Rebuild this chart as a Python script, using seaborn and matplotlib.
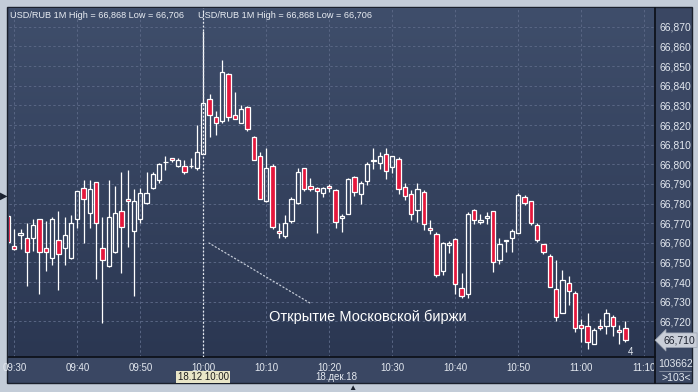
import matplotlib
matplotlib.use("Agg")
import numpy as np
import pandas as pd
import matplotlib.pyplot as plt
import matplotlib.transforms as mtrans
from matplotlib.colors import LinearSegmentedColormap
from matplotlib.patches import Rectangle
from matplotlib.lines import Line2D
import seaborn as sns

# ---------------- data ----------------
times = ["09:29", "09:30", "09:31", "09:32", "09:33", "09:34", "09:35", "09:36", "09:37", "09:38",
         "09:39", "09:40", "09:41", "09:42", "09:43", "09:44", "09:45", "09:46", "09:47", "09:48",
         "09:49", "09:50", "09:51", "09:52", "09:53", "09:54", "09:55", "09:56", "09:57", "09:58",
         "09:59", "10:00", "10:01", "10:02", "10:03", "10:04", "10:05", "10:06", "10:07", "10:08",
         "10:09", "10:10", "10:11", "10:12", "10:13", "10:14", "10:15", "10:16", "10:17", "10:18",
         "10:19", "10:20", "10:21", "10:22", "10:23", "10:24", "10:25", "10:26", "10:27", "10:28",
         "10:29", "10:30", "10:31", "10:32", "10:33", "10:34", "10:35", "10:36", "10:37", "10:38",
         "10:39", "10:40", "10:41", "10:42", "10:43", "10:44", "10:45", "10:46", "10:47", "10:48",
         "10:49", "10:50", "10:51", "10:52", "10:53", "10:54", "10:55", "10:56", "10:57", "10:58",
         "10:59", "11:00", "11:01", "11:02", "11:03", "11:04", "11:05", "11:06", "11:07"]

opens = [66.7738, 66.7582, 66.7638, 66.7623, 66.7623, 66.7720, 66.7572, 66.7521, 66.7613, 66.7572,
         66.7521, 66.7720, 66.7878, 66.7750, 66.7908, 66.7572, 66.7480, 66.7552, 66.7761, 66.7822,
         66.7659, 66.7720, 66.7801, 66.7878, 66.7919, 66.8010, 66.8032, 66.7990, 66.7992, 66.7990,
         66.7980, 66.8053, 66.8333, 66.8241, 66.8221, 66.8460, 66.8251, 66.8211, 66.8292, 66.8139,
         66.8042, 66.7812, 66.7992, 66.7660, 66.7633, 66.7710, 66.7801, 66.7981, 66.7891, 66.7881,
         66.7854, 66.7888, 66.7871, 66.7728, 66.7749, 66.7937, 66.7851, 66.7917, 66.8019, 66.8008,
         66.8051, 66.7988, 66.8029, 66.7886, 66.7851, 66.7769, 66.7861, 66.7677, 66.7647, 66.7458,
         66.7591, 66.7621, 66.7372, 66.7341, 66.7769, 66.7708, 66.7728, 66.7762, 66.7513, 66.7610,
         66.7625, 66.7650, 66.7834, 66.7813, 66.7691, 66.7594, 66.7533, 66.7365, 66.7243, 66.7396,
         66.7345, 66.7182, 66.7177, 66.7085, 66.7177, 66.7177, 66.7222, 66.7156, 66.7166]

highs = [66.7745, 66.7671, 66.7671, 66.7700, 66.7722, 66.7723, 66.7711, 66.7732, 66.7762, 66.7732,
         66.7742, 66.7865, 66.7920, 66.7920, 66.7910, 66.7732, 66.7920, 66.7890, 66.7961, 66.7971,
         66.7873, 66.7879, 66.7961, 66.7961, 66.8005, 66.8044, 66.8034, 66.8034, 66.8022, 66.8032,
         66.8200, 66.8680, 66.8360, 66.8272, 66.8531, 66.8465, 66.8370, 66.8304, 66.8295, 66.8142,
         66.8063, 66.8083, 66.8002, 66.7701, 66.7742, 66.7834, 66.7981, 66.7983, 66.7932, 66.7883,
         66.7883, 66.7898, 66.7873, 66.7749, 66.7929, 66.7939, 66.7917, 66.8010, 66.8081, 66.8061,
         66.8081, 66.8043, 66.8039, 66.7907, 66.7871, 66.7907, 66.7871, 66.7718, 66.7657, 66.7603,
         66.7611, 66.7623, 66.7448, 66.7759, 66.7771, 66.7749, 66.7759, 66.7764, 66.7625, 66.7616,
         66.7670, 66.7854, 66.7844, 66.7815, 66.7701, 66.7596, 66.7543, 66.7514, 66.7462, 66.7431,
         66.7355, 66.7212, 66.7243, 66.7166, 66.7212, 66.7263, 66.7233, 66.7182, 66.7202]

lows = [66.7595, 66.7565, 66.7569, 66.7382, 66.7559, 66.7341, 66.7458, 66.7487, 66.7362, 66.7487,
        66.7518, 66.7674, 66.7601, 66.7677, 66.7418, 66.7190, 66.7478, 66.7550, 66.7448, 66.7581,
        66.7331, 66.7700, 66.7800, 66.7876, 66.7907, 66.7969, 66.8010, 66.7988, 66.7949, 66.7980,
        66.7969, 66.8050, 66.8138, 66.8148, 66.8211, 66.8221, 66.8230, 66.8210, 66.8170, 66.8020,
        66.7821, 66.7810, 66.7671, 66.7623, 66.7623, 66.7700, 66.7800, 66.7864, 66.7864, 66.7650,
        66.7834, 66.7859, 66.7676, 66.7655, 66.7747, 66.7840, 66.7800, 66.7896, 66.7975, 66.7975,
        66.7925, 66.7956, 66.7849, 66.7820, 66.7715, 66.7708, 66.7667, 66.7647, 66.7428, 66.7438,
        66.7548, 66.7341, 66.7321, 66.7321, 66.7698, 66.7698, 66.7698, 66.7452, 66.7492, 66.7553,
        66.7553, 66.7648, 66.7793, 66.7689, 66.7604, 66.7543, 66.7373, 66.7202, 66.7241, 66.7284,
        66.7146, 66.7093, 66.7061, 66.7083, 66.7156, 66.7136, 66.7124, 66.7085, 66.7093]

closes = [66.7603, 66.7570, 66.7649, 66.7552, 66.7689, 66.7552, 66.7552, 66.7720, 66.7542, 66.7638,
          66.7700, 66.7862, 66.7822, 66.7873, 66.7700, 66.7511, 66.7730, 66.7750, 66.7679, 66.7812,
          66.7812, 66.7852, 66.7852, 66.7951, 66.8002, 66.8014, 66.8022, 66.8022, 66.7959, 66.7993,
          66.8063, 66.8312, 66.8251, 66.8211, 66.8470, 66.8241, 66.8231, 66.8282, 66.8180, 66.8022,
          66.7823, 66.7981, 66.7681, 66.7650, 66.7701, 66.7823, 66.7961, 66.7874, 66.7874, 66.7864,
          66.7881, 66.7878, 66.7708, 66.7739, 66.7927, 66.7861, 66.7907, 66.8000, 66.8021, 66.8041,
          66.7968, 66.8041, 66.7876, 66.7840, 66.7749, 66.7876, 66.7698, 66.7667, 66.7438, 66.7601,
          66.7601, 66.7392, 66.7331, 66.7749, 66.7718, 66.7718, 66.7739, 66.7503, 66.7594, 66.7612,
          66.7660, 66.7844, 66.7803, 66.7701, 66.7615, 66.7553, 66.7375, 66.7222, 66.7411, 66.7355,
          66.7166, 66.7166, 66.7095, 66.7156, 66.7166, 66.7243, 66.7177, 66.7146, 66.7104]

x_tick_labels = ["09:30", "09:40", "09:50", "10:00", "10:10", "10:20",
                 "10:30", "10:40", "10:50", "11:00", "11:10"]
y_tick_values = [66.72, 66.73, 66.74, 66.75, 66.76, 66.77, 66.78, 66.79,
                 66.80, 66.81, 66.82, 66.83, 66.84, 66.85, 66.86, 66.87]
symbol = "USD/RUB 1M"
cursor_time = "10:00"
cursor_label = "18.12 10:00"
date_label = "18.дек.18"
note_text = "Открытие Московской биржи"
volume_text = "103662"
count_text = ">103<"
corner_text = "4"

# ---------------- style ----------------
sns.set_theme(style="dark")
plt.rcParams['font.family'] = ['Liberation Sans', 'DejaVu Sans']

def to_min(t):
    h, m = t.split(":")
    return int(h) * 60 + int(m)

df = pd.DataFrame(dict(t=times, o=opens, h=highs, l=lows, c=closes))
df["x"] = df["t"].map(to_min)
df["up"] = df["c"] >= df["o"]
df["lo"] = df[["o", "c"]].min(axis=1)
df["hi"] = df[["o", "c"]].max(axis=1)
df["bh"] = (df["hi"] - df["lo"]).clip(lower=0.0002)

W, H = 698, 392
fig = plt.figure(figsize=(W / 100, H / 100), dpi=100)
fig.patch.set_facecolor("#c3ccd8")

def fx(p):
    return p / W

def fy(p):
    return 1 - p / H

TXT = "#e4e9f0"

# dark outer panel (axis areas)
fig.patches.append(Rectangle((fx(7.5), fy(383)), fx(692) - fx(7.5), fy(6.5) - fy(383),
                             transform=fig.transFigure, fc="#3a4763", ec="#1a202c",
                             lw=1.0, zorder=-5))

ax = fig.add_axes([fx(9), fy(356.7), fx(655.3) - fx(9), fy(8) - fy(356.7)])
grad = np.linspace(0, 1, 256).reshape(-1, 1)
cmap = LinearSegmentedColormap.from_list("bg", ["#3f4e6b", "#2b3752"])
ax.imshow(grad, cmap=cmap, extent=[0, 1, 0, 1], transform=ax.transAxes,
          aspect="auto", zorder=0, interpolation="bilinear")

ax.set_xticks([to_min(t) for t in x_tick_labels])
ax.set_xticklabels(x_tick_labels)
ax.set_yticks(y_tick_values)
ax.set_yticklabels([f"{v:.3f}".replace(".", ",") for v in y_tick_values])
ax.yaxis.tick_right()
ax.tick_params(axis="y", length=0, pad=3, labelsize=7.5, labelcolor=TXT)
ax.tick_params(axis="x", length=0, pad=4.5, labelsize=7, labelcolor=TXT)
ax.set_axisbelow(True)
ax.grid(True, color="#596684", lw=0.7, ls=(0, (2.5, 2.5)))
for s in ["top", "left"]:
    ax.spines[s].set_visible(False)
for s in ["right", "bottom"]:
    ax.spines[s].set_color("#0e121b")
    ax.spines[s].set_linewidth(1.3)

# candles
red = "#e5173c"
face = ["none" if u else red for u in df["up"]]
ax.vlines(df["x"], df["hi"], df["h"], color="white", lw=0.9, zorder=3)
ax.vlines(df["x"], df["l"], df["lo"], color="white", lw=0.9, zorder=3)
ax.bar(df["x"], df["bh"], bottom=df["lo"], width=0.68, color=face,
       edgecolor="white", linewidth=0.9, zorder=4)

# cursor
cx = to_min(cursor_time)
ax.axvline(cx, color="#e8ecf2", lw=0.9, ls=(0, (1.5, 1.5)), zorder=5)

ax.set_xlim(569.16, 671.75)
ax.set_ylim(66.7020, 66.8796)

# annotation
ax.annotate("", xy=(600.9, 66.7599), xytext=(616.9, 66.7294),
            arrowprops=dict(arrowstyle="-", color="#c5ccd8", lw=0.9,
                            ls=(0, (1, 2)), shrinkA=0, shrinkB=0), zorder=6)
ax.text(626.1, 66.7225, note_text, ha="center", va="center", fontsize=10.5,
        color="white", zorder=6)

# header
header = (f"{symbol} High = {max(highs):.3f} Low = {min(lows):.3f}").replace("66.", "66,")
fig.text(fx(10), fy(15), header, fontsize=6.6, color="#e9edf3", va="center", ha="left")
fig.text(fx(198), fy(15), header, fontsize=6.6, color="#e9edf3", va="center", ha="left")

# last price box
tr_last = mtrans.blended_transform_factory(fig.transFigure, ax.transData)
ax.text(fx(663), closes[-1], f"{closes[-1]:.3f}".replace(".", ","), transform=tr_last,
        ha="left", va="center", fontsize=7.5, color="#1d2230", clip_on=False, zorder=7,
        bbox=dict(boxstyle="larrow,pad=0.22", fc="#c9ced8", ec="#9aa2b0", lw=0.5))

# bottom axis extras
tr_cur = mtrans.blended_transform_factory(ax.transData, fig.transFigure)
ax.text(cx, fy(377), cursor_label, transform=tr_cur, ha="center", va="center",
        fontsize=7, color="#1e1e1e", clip_on=False, zorder=7,
        bbox=dict(boxstyle="square,pad=0.15", fc="#e9e6c8", ec="none"))
fig.text(fx(336), fy(377), date_label, ha="center", va="center", fontsize=7, color=TXT)
fig.text(fx(631), fy(352), corner_text, ha="center", va="center", fontsize=7, color=TXT)

# right-bottom corner
fig.text(fx(676), fy(364), volume_text, ha="center", va="center", fontsize=7.5, color=TXT)
fig.text(fx(676), fy(378), count_text, ha="center", va="center", fontsize=7.5, color=TXT)
fig.add_artist(Line2D([fx(659), fx(691)], [fy(371), fy(371)], color="#8c95a6", lw=0.6))
fig.add_artist(Line2D([fx(655.3), fx(655.3)], [fy(356.7), fy(382.5)], color="#0e121b", lw=1.3))

# small markers in frame
fig.text(fx(3.5), fy(196), "▶", fontsize=7, color="#1b2230", ha="center", va="center")
fig.text(fx(352), fy(388.5), "▲", fontsize=6, color="#1b2230", ha="center", va="center")

fig.savefig("out.png", dpi=100)
